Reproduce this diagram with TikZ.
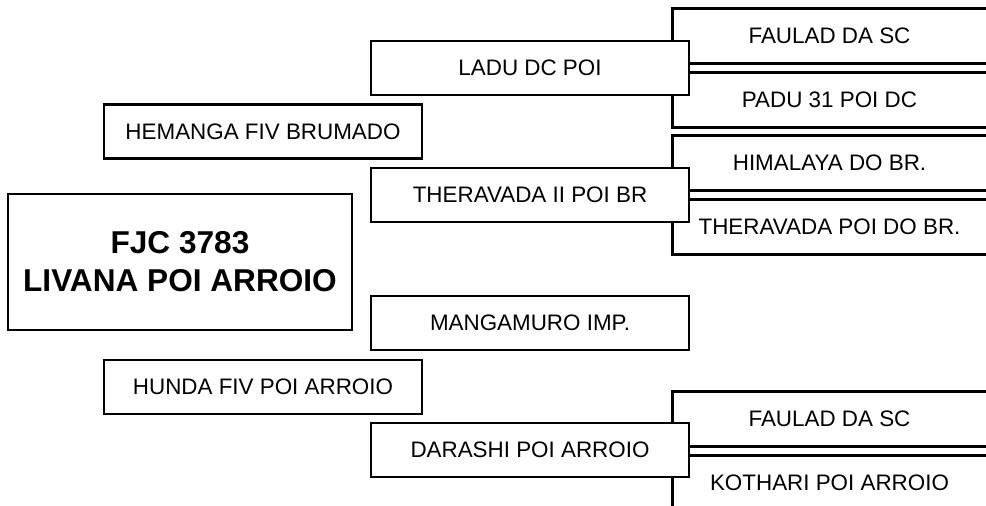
\documentclass[tikz,border=0pt]{standalone}
\usepackage{fontspec}
\setmainfont{Liberation Sans}
\usepackage{tikz}

\begin{document}
\begin{tikzpicture}[x=0.5pt, y=-0.5pt,
  edge/.style={line width=1.15pt},
  box/.style={draw, edge, fill=white, inner sep=0pt, minimum width=159pt, minimum height=27pt, font=\fontsize{11.2}{13}\selectfont},
  sire/.style={inner sep=0pt, minimum width=156.5pt, minimum height=27pt, font=\fontsize{11.2}{13}\selectfont}]
  \clip (0,0) rectangle (986,506);

  % third generation, open to the right
  \node[sire] (faulad1) at (829.5,36) {FAULAD DA SC};
  \node[sire] (padu) at (829.5,100) {PADU 31 POI DC};
  \node[sire] (himalaya) at (829.5,163) {HIMALAYA DO BR.};
  \node[sire] (theradam) at (829.5,227) {THERAVADA POI DO BR.};
  \node[sire] (faulad2) at (829.5,419) {FAULAD DA SC};
  \node[sire] (kothari) at (829.5,483) {KOTHARI POI ARROIO};
  \foreach \n in {faulad1,padu,himalaya,theradam,faulad2,kothari}
    \draw[edge] ([xshift=8pt]\n.north east) -- (\n.north west) -- (\n.south west) -- ([xshift=8pt]\n.south east);

  % second generation
  \node[box] (ladu) at (530,68) {LADU DC POI};
  \node[box] (thera) at (530,195) {THERAVADA II POI BR};
  \node[box] (manga) at (530,323) {MANGAMURO IMP.};
  \node[box] (darashi) at (530,450) {DARASHI POI ARROIO};

  % first generation
  \node[box] (hemanga) at (263,131.5) {HEMANGA FIV BRUMADO};
  \node[box] (hunda) at (263,387) {HUNDA FIV POI ARROIO};

  \node[box, minimum width=172pt, minimum height=68pt, align=center,
    font=\fontsize{15.8}{19}\selectfont\bfseries] (main) at (180,262) {FJC 3783\\LIVANA POI ARROIO};
\end{tikzpicture}
\end{document}
